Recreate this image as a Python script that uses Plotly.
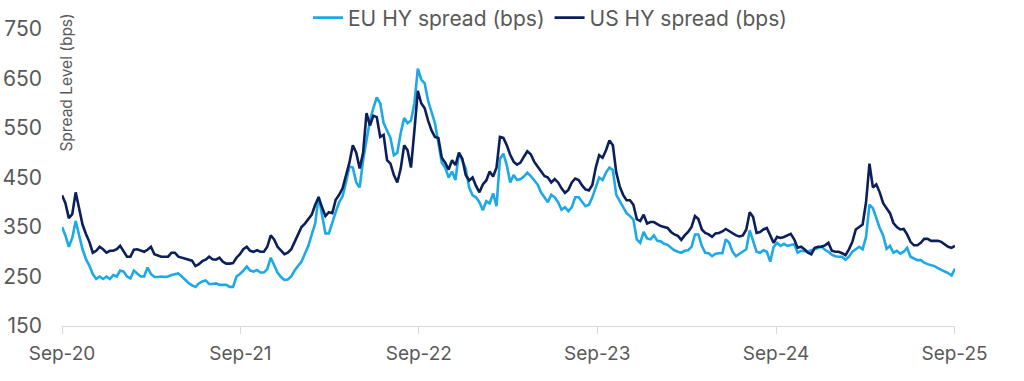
import pandas as pd
import plotly.graph_objects as go

# Weekly observation dates (Sep-2020 .. Sep-2025)
dates = pd.date_range("2020-09-01", periods=262, freq="7D")

eu_hy = [350, 333, 310, 328, 362, 335, 305, 285, 272, 255,
         245, 250, 245, 250, 245, 253, 250, 262, 260, 250,
         246, 262, 255, 250, 250, 268, 255, 249, 249, 250,
         249, 250, 253, 254, 256, 250, 243, 237, 232, 229,
         236, 240, 242, 235, 235, 236, 233, 233, 233, 229,
         229, 250, 255, 262, 270, 262, 260, 263, 258, 258,
         265, 288, 272, 258, 249, 243, 244, 250, 262, 270,
         280, 296, 312, 335, 357, 412, 370, 337, 337, 360,
         380, 400, 412, 440, 472, 470, 440, 430, 485, 525,
         565, 590, 612, 600, 560, 545, 530, 495, 500, 540,
         570, 560, 565, 600, 670, 648, 640, 605, 580, 560,
         520, 480, 470, 450, 462, 445, 500, 485, 468, 430,
         414, 410, 400, 384, 402, 398, 418, 392, 488, 498,
         475, 440, 455, 445, 447, 452, 460, 453, 445, 436,
         420, 410, 400, 415, 410, 400, 385, 390, 382, 390,
         410, 410, 400, 392, 395, 410, 430, 450, 445, 460,
         470, 465, 415, 402, 388, 378, 372, 365, 325, 318,
         340, 327, 325, 333, 322, 321, 316, 314, 308, 303,
         300, 298, 302, 303, 310, 335, 335, 312, 298, 297,
         291, 296, 297, 297, 325, 318, 300, 291, 296, 300,
         305, 343, 320, 300, 298, 303, 300, 280, 310, 318,
         312, 316, 312, 314, 315, 298, 302, 301, 300, 303,
         305, 308, 310, 304, 300, 294, 291, 290, 290, 284,
         290, 300, 306, 310, 305, 330, 395, 388, 368, 348,
         333, 306, 312, 298, 302, 296, 300, 308, 290, 286,
         283, 283, 278, 275, 273, 271, 267, 263, 260, 257,
         252, 266]

us_hy = [414, 398, 368, 376, 420, 385, 355, 336, 320, 298,
         302, 310, 305, 298, 302, 302, 305, 312, 300, 290,
         290, 304, 305, 303, 300, 304, 310, 295, 292, 290,
         290, 290, 298, 298, 290, 288, 286, 284, 282, 271,
         275, 281, 284, 290, 285, 284, 288, 280, 276, 276,
         277, 288, 295, 305, 310, 302, 300, 303, 300, 300,
         310, 333, 325, 310, 302, 295, 298, 305, 320, 335,
         350, 357, 365, 375, 395, 410, 390, 372, 380, 378,
         405, 415, 428, 455, 480, 515, 500, 468, 500, 580,
         555, 575, 572, 532, 536, 485, 478, 455, 440, 468,
         515, 505, 470, 545, 625, 600, 590, 565, 545, 532,
         530, 490, 480, 466, 485, 475, 500, 488, 455, 444,
         450, 433, 420, 436, 444, 462, 452, 470, 532, 530,
         515, 496, 482, 476, 480, 492, 503, 497, 482, 472,
         462, 453, 450, 440, 447, 440, 428, 419, 425, 440,
         448, 445, 434, 426, 424, 435, 470, 495, 490, 505,
         525, 515, 460, 432, 415, 404, 404, 395, 366, 362,
         375, 357, 360, 360, 356, 352, 350, 348, 340, 335,
         332, 324, 333, 340, 350, 372, 366, 345, 338, 335,
         330, 337, 338, 341, 346, 342, 338, 333, 331, 333,
         345, 380, 370, 338, 340, 345, 348, 332, 318, 330,
         328, 330, 333, 336, 325, 308, 310, 305, 298, 295,
         308, 310, 310, 313, 318, 302, 300, 300, 297, 293,
         305, 320, 345, 350, 355, 400, 478, 430, 436, 420,
         398, 388, 378, 358, 350, 345, 346, 335, 320, 313,
         313, 318, 326, 326, 322, 322, 322, 320, 315, 310,
         308, 312]

series_names = ["EU HY spread (bps)", "US HY spread (bps)"]
series_colors = ["#1DA9E6", "#0B1F5B"]
tick_dates = ["2020-09-01", "2021-09-01", "2022-09-01", "2023-09-01", "2024-09-01", "2025-09-01"]
tick_text = ["Sep-20", "Sep-21", "Sep-22", "Sep-23", "Sep-24", "Sep-25"]
y_ticks = [150, 250, 350, 450, 550, 650, 750]

FONT = "Inter, Roboto, Arial, sans-serif"
GREY = "#595959"

fig = go.Figure()
for name, vals, col in zip(series_names, [eu_hy, us_hy], series_colors):
    fig.add_trace(go.Scatter(x=dates, y=vals, mode="lines", name=name,
                             line=dict(color=col, width=2.6)))

fig.update_layout(
    width=1024, height=381,
    margin=dict(l=62, r=69, t=29, b=55, autoexpand=False),
    paper_bgcolor="white", plot_bgcolor="white",
    font=dict(family=FONT, color=GREY, size=19),
    legend=dict(orientation="h", xref="container", yref="container",
                x=550 / 1024, xanchor="center",
                y=1 - 18 / 381, yanchor="middle",
                font=dict(size=21, color=GREY), bgcolor="rgba(0,0,0,0)",
                itemwidth=30, tracegroupgap=0),
    showlegend=True,
)
fig.update_xaxes(
    range=[str(dates[0].date()), str(dates[-1].date())],
    tickvals=tick_dates, ticktext=tick_text,
    showgrid=False, zeroline=False, automargin=False,
    showline=True, linecolor="#d9d9d9", linewidth=1,
    ticks="outside", ticklen=7, tickcolor="#d9d9d9",
    tickfont=dict(size=19, color=GREY), ticklabelstandoff=3,
)
fig.update_yaxes(
    range=[150, 750], tickvals=y_ticks, automargin=False,
    showgrid=False, zeroline=False, showline=False,
    ticks="", tickfont=dict(size=21, color=GREY), ticklabelstandoff=19,
)
fig.add_annotation(text="Spread Level (bps)", textangle=-90,
                   xref="paper", yref="paper", x=0.004, y=1 - (83 - 29) / 297,
                   xanchor="center", yanchor="middle",
                   showarrow=False, font=dict(size=15.5, color=GREY))

fig.write_html("out.html", config={"displayModeBar": False},
               post_script="document.body.style.margin='0';")
